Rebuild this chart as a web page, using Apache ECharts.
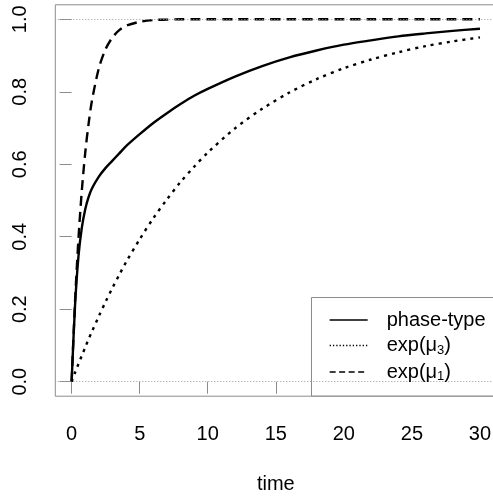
<!DOCTYPE html>
<html>
<head>
<meta charset="utf-8">
<script src="https://cdn.jsdelivr.net/npm/echarts@6/dist/echarts.min.js"></script>
<style>
html,body{margin:0;padding:0;background:#fff;}
#chart{width:493px;height:498px;}
</style>
</head>
<body>
<div id="chart"></div>
<script>
// ---- data ----
const timePoints = [0, 0.25, 0.5, 0.75, 1, 1.25, 1.5, 2, 2.5, 3, 3.5, 4, 5, 6, 7, 8, 9, 10, 12, 14, 16, 18, 20, 22, 24, 26, 28, 30];
const phaseType = [0, 0.21, 0.345, 0.425, 0.476, 0.51, 0.534, 0.566, 0.59, 0.61, 0.63, 0.65, 0.683, 0.714, 0.741, 0.766, 0.789, 0.808, 0.842, 0.871, 0.895, 0.914, 0.93, 0.942, 0.953, 0.961, 0.968, 0.974];
const expMu3 = [0, 0.025, 0.049, 0.072, 0.095, 0.118, 0.139, 0.181, 0.221, 0.259, 0.295, 0.33, 0.393, 0.451, 0.503, 0.551, 0.593, 0.632, 0.699, 0.753, 0.798, 0.835, 0.865, 0.889, 0.909, 0.926, 0.939, 0.95];
const expMu1 = [0, 0.221, 0.393, 0.528, 0.632, 0.713, 0.777, 0.865, 0.918, 0.95, 0.97, 0.982, 0.993, 0.998, 0.999, 1, 1, 1, 1, 1, 1, 1, 1, 1, 1, 1, 1, 1];
const xTicks = [0, 5, 10, 15, 20, 25, 30];
const yTicks = [0, 0.2, 0.4, 0.6, 0.8, 1.0];
const refLines = [0, 1];
const seriesNames = ['phase-type', 'exp(μ3)', 'exp(μ1)'];
const xName = 'time';

const FONT = '"Liberation Sans", Arial, Helvetica, sans-serif';
const pairs = ys => timePoints.map((t, i) => [t, ys[i]]);

const chart = echarts.init(document.getElementById('chart'));
chart.setOption({
  animation: false,
  backgroundColor: '#fff',
  textStyle: { fontFamily: FONT },
  grid: {
    show: true, left: 55.3, top: 4.8, width: 441, height: 391.4,
    containLabel: false, outerBoundsMode: 'none',
    borderColor: '#8c8c8c', borderWidth: 1, backgroundColor: 'transparent'
  },
  graphic: [{
    type: 'rect', z: 4, silent: true,
    shape: { x: 311.5, y: 297.5, width: 200, height: 98.5 },
    style: { fill: '#fff', stroke: '#8c8c8c', lineWidth: 1 }
  }],
  xAxis: {
    type: 'value', min: -1.2, max: 31.2,
    name: xName, nameLocation: 'middle', nameGap: 78,
    nameTextStyle: { fontSize: 20, color: '#000', fontFamily: FONT },
    axisLine: { show: false },
    splitLine: { show: false },
    axisTick: { show: true, length: 12, inside: false, customValues: xTicks, lineStyle: { color: '#8c8c8c', width: 1 } },
    axisLabel: { customValues: xTicks, margin: 28, fontSize: 20, color: '#000', fontFamily: FONT }
  },
  yAxis: {
    type: 'value', min: -0.04, max: 1.04,
    axisLine: { show: false },
    splitLine: { show: false },
    axisTick: { show: true, length: 12, inside: false, customValues: yTicks, lineStyle: { color: '#8c8c8c', width: 1 } },
    axisLabel: { customValues: yTicks, rotate: 90, margin: 25, fontSize: 20, color: '#000', fontFamily: FONT,
      formatter: v => v.toFixed(1) }
  },
  legend: {
    orient: 'vertical', left: 311, top: 297, z: 6,
    padding: [13, 10, 13, 18],
    itemWidth: 38, itemHeight: 14, itemGap: 5.5,
    backgroundColor: 'transparent', borderWidth: 0,
    textStyle: {
      fontSize: 20, color: '#000', fontFamily: FONT, lineHeight: 20,
      padding: [0, 0, 0, 14],
      rich: {
        a: { fontSize: 20, fontFamily: FONT, color: '#000' },
        s: { fontSize: 13, fontFamily: FONT, color: '#000', padding: [9, 0, 0, 0] }
      }
    },
    formatter: name => {
      const m = name.match(/^(exp\(μ)(\d)(\))$/);
      return m ? '{a|' + m[1] + '}{s|' + m[2] + '}{a|' + m[3] + '}' : name;
    },
    data: [
      { name: seriesNames[0], itemStyle: { opacity: 0 }, lineStyle: { width: 1.3, type: 'solid', color: '#000' } },
      { name: seriesNames[1], itemStyle: { opacity: 0 }, lineStyle: { width: 1.3, type: [1.3, 2], color: '#000' } },
      { name: seriesNames[2], itemStyle: { opacity: 0 }, lineStyle: { width: 1.3, type: [6, 3.5], color: '#000' } }
    ]
  },
  series: [
    {
      name: seriesNames[0], type: 'line', data: pairs(phaseType), smooth: 0.3,
      symbol: 'none', itemStyle: { color: '#000' }, lineStyle: { color: '#000', width: 2.4, type: 'solid' }, z: 3,
      markLine: {
        silent: true, symbol: 'none', label: { show: false },
        lineStyle: { color: '#999', width: 1, type: [1, 2] },
        data: refLines.map(v => ({ yAxis: v }))
      }
    },
    {
      name: seriesNames[1], type: 'line', data: pairs(expMu3), smooth: 0.3,
      symbol: 'none', itemStyle: { color: '#000' }, lineStyle: { color: '#000', width: 2.4, type: [3, 5] }, z: 3
    },
    {
      name: seriesNames[2], type: 'line', data: pairs(expMu1), smooth: 0.3,
      symbol: 'none', itemStyle: { color: '#000' }, lineStyle: { color: '#000', width: 2.4, type: [10, 6] }, z: 3
    }
  ]
});
</script>
</body>
</html>
